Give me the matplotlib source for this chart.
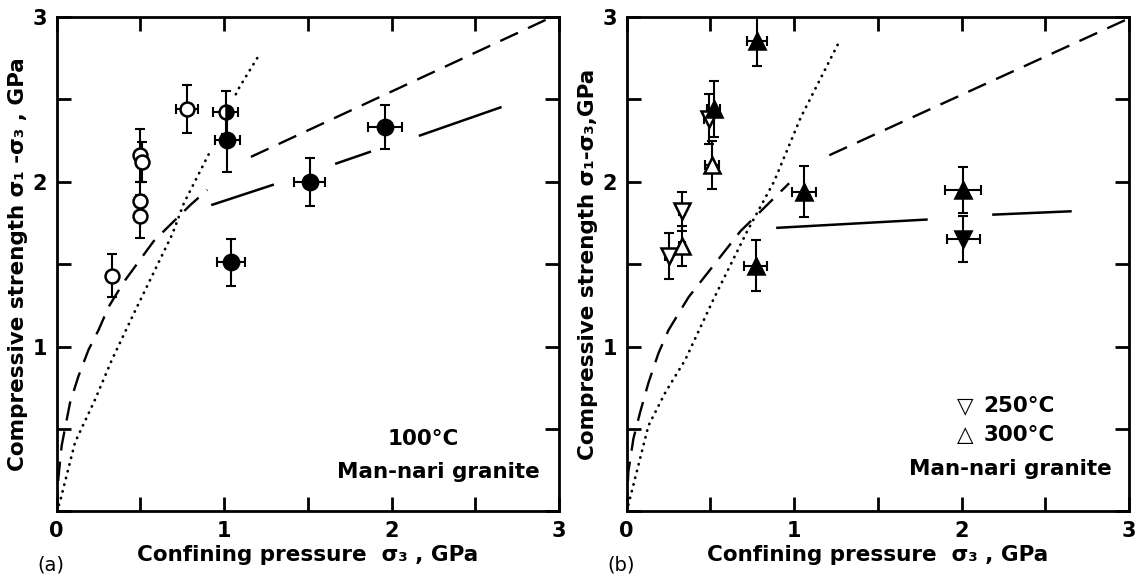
import matplotlib
matplotlib.use("Agg")
import matplotlib.pyplot as plt
import numpy as np
from matplotlib.ticker import FixedLocator, FuncFormatter

plt.rcParams["font.family"] = ["DejaVu Sans"]
plt.rcParams["lines.scale_dashes"] = False

nan = np.nan

# ── panel (a): 100 °C ─────────────────────────────────────────────────────────
a_open_x = [0.33, 0.50, 0.51, 0.50, 0.50, 0.78]
a_open_y = [1.43, 2.16, 2.12, 1.88, 1.79, 2.44]
a_open_xerr = [0.03, 0.03, 0.03, 0.03, 0.03, 0.065]
a_open_yerr = [0.13, 0.16, 0.12, 0.12, 0.13, 0.145]

a_half_x = [1.01]
a_half_y = [2.42]
a_half_xerr = [0.075]
a_half_yerr = [0.13]

a_fill_x = [1.02, 1.04, 1.51, 1.96]
a_fill_y = [2.25, 1.51, 2.00, 2.33]
a_fill_xerr = [0.075, 0.083, 0.093, 0.10]
a_fill_yerr = [0.19, 0.145, 0.145, 0.135]

a_dot_x = [0, 0.02, 0.11, 0.23, 0.33, 0.47, 0.69, 0.76, 0.88, 0.92, nan, 1.07, 1.09, 1.21]
a_dot_y = [0, 0.06, 0.42, 0.68, 0.92, 1.22, 1.68, 1.87, 2.11, 2.19, nan, 2.53, 2.57, 2.77]

a_dash_x = [0, 0.01, 0.03, 0.08, 0.13, 0.19, 0.25, 0.31, 0.40, 0.58, 0.80, 0.90, nan, 1.16, 2.94]
a_dash_y = [0, 0.20, 0.40, 0.66, 0.82, 0.98, 1.10, 1.24, 1.39, 1.64, 1.86, 1.95, nan, 2.15, 2.99]

a_long_x = [0.93, 1.29, nan, 1.67, 1.87, nan, 2.17, 2.65]
a_long_y = [1.86, 1.98, nan, 2.11, 2.18, nan, 2.28, 2.45]

# ── panel (b): 250 / 300 °C ───────────────────────────────────────────────────
b_dn_open_x = [0.25, 0.33, 0.49]
b_dn_open_y = [1.55, 1.82, 2.38]
b_dn_open_xerr = [0.02, 0.02, 0.03]
b_dn_open_yerr = [0.14, 0.12, 0.15]

b_up_open_x = [0.33, 0.51]
b_up_open_y = [1.61, 2.10]
b_up_open_xerr = [0.02, 0.04]
b_up_open_yerr = [0.12, 0.145]

b_up_fill_x = [0.52, 0.78, 0.77, 1.06, 2.01]
b_up_fill_y = [2.44, 2.85, 1.49, 1.94, 1.95]
b_up_fill_xerr = [0.04, 0.06, 0.07, 0.07, 0.107]
b_up_fill_yerr = [0.17, 0.15, 0.155, 0.155, 0.14]

b_dn_fill_x = [2.01]
b_dn_fill_y = [1.65]
b_dn_fill_xerr = [0.10]
b_dn_fill_yerr = [0.14]

b_dot_x = [0, 0.01, 0.07, 0.13, 0.23, 0.35, 0.52, 0.72, 0.88, 1.04, 1.26]
b_dot_y = [0, 0.04, 0.28, 0.52, 0.72, 0.92, 1.29, 1.70, 2.00, 2.39, 2.83]

b_dash_x = [0, 0.01, 0.04, 0.08, 0.13, 0.19, 0.25, 0.37, 0.68, 0.97, nan, 1.21, 3.0]
b_dash_y = [0, 0.24, 0.44, 0.60, 0.78, 0.96, 1.10, 1.30, 1.70, 1.99, nan, 2.16, 2.99]

b_long_x = [0.90, 1.79, nan, 2.19, 2.65]
b_long_y = [1.72, 1.77, nan, 1.80, 1.82]

tick_vals = [0, 0.5, 1, 1.5, 2, 2.5, 3]

FS = 15.5
err_kw = dict(fmt="none", ecolor="k", elinewidth=1.5, capsize=3.5, capthick=1.5, zorder=3)
mk_kw = dict(linestyle="none", mec="k", mew=1.8, zorder=4)


def style_axes(ax, ylabel):
    ax.set_xlim(0, 3)
    ax.set_ylim(0, 3)
    for s in ax.spines.values():
        s.set_linewidth(2.0)
    ax.xaxis.set_major_locator(FixedLocator(tick_vals))
    ax.yaxis.set_major_locator(FixedLocator(tick_vals))
    ax.xaxis.set_major_formatter(FuncFormatter(lambda v, p: f"{v:.0f}" if v == int(v) else ""))
    ax.yaxis.set_major_formatter(
        FuncFormatter(lambda v, p: f"{v:.0f}" if v == int(v) and v > 0 else ""))
    ax.tick_params(direction="in", length=10, width=2.0, top=True, right=True,
                   labelsize=15, pad=7)
    for lab in ax.get_xticklabels() + ax.get_yticklabels():
        lab.set_fontweight("bold")
    ax.set_xlabel("Confining pressure  σ₃ , GPa", fontsize=FS, fontweight="bold", labelpad=3)
    ax.set_ylabel(ylabel, fontsize=FS, fontweight="bold", labelpad=3)


def draw_lines(ax, dot, dash, long):
    ax.plot(*dot, color="k", lw=2.0, dashes=(0.2, 4.8), dash_capstyle="round", zorder=2)
    ax.plot(*dash, color="k", lw=1.7, dashes=(14, 8), zorder=2)
    ax.plot(*long, color="k", lw=1.8, zorder=2)


fig = plt.figure(figsize=(11.4, 5.76), dpi=100)
ax_a = fig.add_axes([0.0497, 0.112, 0.4407, 0.859])
ax_b = fig.add_axes([0.5497, 0.112, 0.4407, 0.859])

# ── panel (a) ────────────────────────────────────────────────────────────────
draw_lines(ax_a, (a_dot_x, a_dot_y), (a_dash_x, a_dash_y), (a_long_x, a_long_y))
ax_a.errorbar(a_open_x, a_open_y, yerr=a_open_yerr, xerr=a_open_xerr, **err_kw)
ax_a.errorbar(a_half_x, a_half_y, yerr=a_half_yerr, xerr=a_half_xerr, **err_kw)
ax_a.errorbar(a_fill_x, a_fill_y, yerr=a_fill_yerr, xerr=a_fill_xerr, **err_kw)
ax_a.plot(a_open_x, a_open_y, marker="o", ms=10, mfc="white", **mk_kw)
ax_a.plot(a_half_x, a_half_y, marker="o", ms=10, mfc="k", fillstyle="right",
          markerfacecoloralt="white", **mk_kw)
ax_a.plot(a_fill_x, a_fill_y, marker="o", ms=11, mfc="k", **mk_kw)
ax_a.text(2.19, 0.44, "100°C", ha="center", va="center", fontsize=FS, fontweight="bold")
ax_a.text(2.28, 0.24, "Man-nari granite", ha="center", va="center", fontsize=FS,
          fontweight="bold")
style_axes(ax_a, "Compressive strength σ₁ -σ₃ , GPa")

# ── panel (b) ────────────────────────────────────────────────────────────────
draw_lines(ax_b, (b_dot_x, b_dot_y), (b_dash_x, b_dash_y), (b_long_x, b_long_y))
for xs, ys, xe, ye in [(b_dn_open_x, b_dn_open_y, b_dn_open_xerr, b_dn_open_yerr),
                       (b_up_open_x, b_up_open_y, b_up_open_xerr, b_up_open_yerr),
                       (b_up_fill_x, b_up_fill_y, b_up_fill_xerr, b_up_fill_yerr),
                       (b_dn_fill_x, b_dn_fill_y, b_dn_fill_xerr, b_dn_fill_yerr)]:
    ax_b.errorbar(xs, ys, yerr=ye, xerr=xe, **err_kw)
ax_b.plot(b_dn_open_x, b_dn_open_y, marker="v", ms=11, mfc="white", **mk_kw)
ax_b.plot(b_up_open_x, b_up_open_y, marker="^", ms=11, mfc="white", **mk_kw)
ax_b.plot(b_up_fill_x, b_up_fill_y, marker="^", ms=11, mfc="k", **mk_kw)
ax_b.plot(b_dn_fill_x, b_dn_fill_y, marker="v", ms=11, mfc="k", **mk_kw)
ax_b.text(2.02, 0.64, "▽", ha="center", va="center", fontsize=FS, fontweight="bold")
ax_b.text(2.13, 0.64, "250°C", ha="left", va="center", fontsize=FS, fontweight="bold")
ax_b.text(2.02, 0.465, "△", ha="center", va="center", fontsize=FS, fontweight="bold")
ax_b.text(2.13, 0.465, "300°C", ha="left", va="center", fontsize=FS, fontweight="bold")
ax_b.text(2.29, 0.255, "Man-nari granite", ha="center", va="center", fontsize=FS,
          fontweight="bold")
style_axes(ax_b, "Compressive strength σ₁-σ₃,GPa")

fig.text(0.033, 0.019, "(a)", fontsize=14, va="center", ha="left")
fig.text(0.533, 0.019, "(b)", fontsize=14, va="center", ha="left")

fig.savefig("out.png", dpi=100)
